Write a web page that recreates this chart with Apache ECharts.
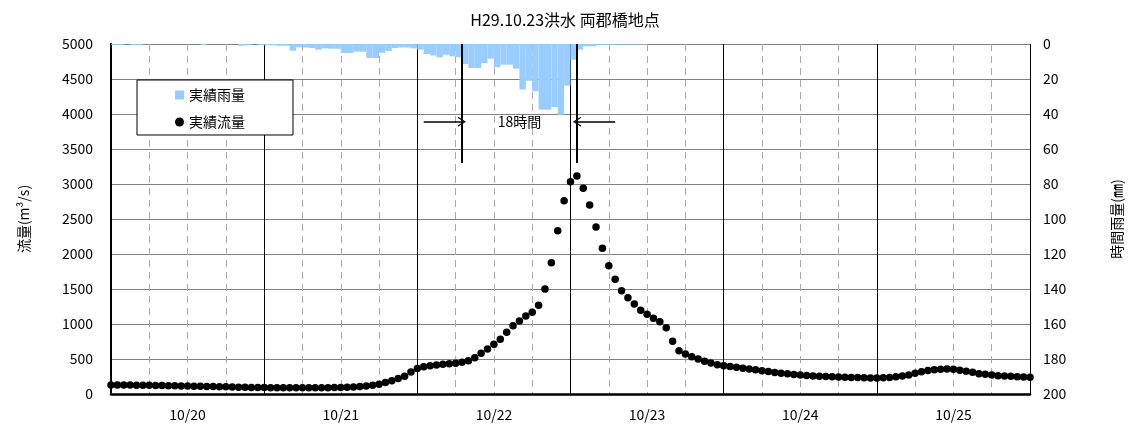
<!DOCTYPE html>
<html>
<head>
<meta charset="utf-8">
<script src="https://cdn.jsdelivr.net/npm/echarts@6/dist/echarts.min.js"></script>
<style>
  html, body { margin: 0; padding: 0; background: #fff; }
  #chart { width: 1133px; height: 433px; }
</style>
</head>
<body>
<div id="chart"></div>
<script>
// 日ラベル (各日の12時位置に表示)
let dayLabels = ["10/20", "10/21", "10/22", "10/23", "10/24", "10/25"];

// 実績雨量 (mm) 1時間ごと、i時〜i+1時
let rainfall = [
  0.5, 0.5, 0, 0.5, 0.5, 0, 0, 0, 0, 0, 0, 0, 0, 0, 0.5, 0, 0, 0, 0, 0, 1, 0.5, 0, 0.5,
  0.7, 0.7, 1, 1, 3.8, 1.9, 2, 2.3, 3.2, 2.5, 2.7, 2.7, 5.1, 5.1, 4.4, 4.4, 8, 8, 5, 4,
  2.3, 2, 2, 2.5, 3.2, 5.7, 6.6, 7.6, 6.1, 7, 7.6, 11.4, 13.7, 13.7, 10.9, 8.4, 13.3, 11.8, 11.8, 14.1,
  26, 21, 27, 37.5, 37.5, 36, 40.4, 23.8, 9, 3.2, 1.3, 1.3, 0.5, 0.5, 0.5, 0.3, 0.3, 0.3, 0.3, 0.3,
  0, 0, 0, 0, 0, 0, 0, 0, 0, 0, 0, 0, 0, 0, 0, 0, 0, 0, 0, 0, 0, 0, 0, 0,
  0, 0, 0, 0, 0, 0, 0, 0, 0, 0, 0, 0, 0, 0, 0, 0, 0, 0, 0, 0, 0, 0, 0, 0
];

// 実績流量 (m3/s) 毎正時 0〜144時
let discharge = [
  130, 129, 128, 127, 126, 125, 124, 122, 121, 119, 118, 116, 114, 112, 110, 108, 106, 104, 102, 100,
  98, 96, 94, 93, 92, 91, 90, 89, 88, 88, 88, 88, 88, 89, 90, 92, 94, 97, 101, 106,
  113, 124, 140, 163, 190, 220, 252, 315, 365, 390, 405, 414, 424, 432, 438, 452, 476, 519, 581, 643,
  710, 781, 881, 976, 1043, 1114, 1167, 1267, 1500, 1876, 2333, 2762, 3033, 3114, 2938, 2700, 2386, 2081, 1831, 1640,
  1476, 1376, 1284, 1198, 1140, 1081, 1033, 948, 752, 619, 571, 533, 500, 467, 443, 419, 405, 393, 381, 369,
  357, 345, 333, 320, 307, 295, 288, 280, 273, 265, 257, 253, 250, 246, 242, 238, 236, 234, 232, 230,
  229, 231, 236, 245, 257, 271, 295, 319, 335, 348, 355, 357, 352, 340, 325, 310, 290, 281, 272, 262,
  257, 252, 247, 243, 238
];

// 18時間の注記
let lagStart = 55;
let lagEnd = 73;

let font = "'Noto Sans CJK JP', sans-serif";

let rainData = rainfall.map((v, i) => [i + 0.5, v]);
let flowData = discharge.map((v, i) => [i, v]);

let chart = echarts.init(document.getElementById("chart"));

let arrowHead = "path://M0,10 L5,0 L10,10 L8.6,10 L5,3 L1.4,10 Z";

let option = {
  animation: false,
  textStyle: { fontFamily: font },
  title: {
    text: "H29.10.23洪水 両郡橋地点",
    left: 560,
    top: 7,
    textAlign: "center",
    textStyle: { fontFamily: font, fontSize: 16, fontWeight: "normal", color: "#000" }
  },
  legend: {
    orient: "vertical",
    left: 137,
    top: 80,
    backgroundColor: "#fff",
    borderColor: "#000",
    borderWidth: 1,
    padding: [8, 48, 6, 38],
    itemGap: 13,
    itemWidth: 9,
    itemHeight: 9,
    textStyle: { fontFamily: font, fontSize: 14, color: "#000" },
    data: [
      { name: "実績雨量", icon: "rect" },
      { name: "実績流量", icon: "circle" }
    ]
  },
  grid: {
    left: 111,
    right: 103,
    top: 44,
    bottom: 39
  },
  xAxis: [
    {
      type: "value",
      min: 0,
      max: 144,
      interval: 6,
      axisLine: { lineStyle: { color: "#000", width: 2.5 } },
      axisTick: { show: false },
      axisLabel: {
        margin: 14,
        fontSize: 14,
        color: "#000",
        fontFamily: font,
        formatter: v => (v % 24 === 12 ? dayLabels[(v - 12) / 24] : "")
      },
      splitLine: { show: true, lineStyle: { color: "#aaa", type: [7, 5], width: 1 } }
    },
    {
      type: "value",
      position: "bottom",
      min: 0,
      max: 144,
      interval: 24,
      axisLine: { show: false },
      axisTick: { show: false },
      axisLabel: { show: false },
      splitLine: { show: true, lineStyle: { color: "#000", width: 1 } }
    }
  ],
  yAxis: [
    {
      type: "value",
      name: "流量(m³/s)",
      nameLocation: "middle",
      nameRotate: 90,
      nameGap: 80,
      nameTextStyle: { fontFamily: font, fontSize: 14, color: "#000" },
      min: 0,
      max: 5000,
      interval: 500,
      axisLine: { show: true, lineStyle: { color: "#000", width: 2 } },
      axisTick: { show: false },
      axisLabel: { margin: 18, fontSize: 14, color: "#000", fontFamily: font, formatter: v => String(v) },
      splitLine: { show: true, lineStyle: { color: "#808080", width: 1 } }
    },
    {
      type: "value",
      name: "時間雨量(㎜)",
      nameLocation: "middle",
      nameRotate: 90,
      nameGap: 80,
      nameTextStyle: { fontFamily: font, fontSize: 14, color: "#000" },
      position: "right",
      inverse: true,
      min: 0,
      max: 200,
      interval: 20,
      axisLine: { show: true, lineStyle: { color: "#000", width: 2 } },
      axisTick: { show: false },
      axisLabel: { margin: 13, fontSize: 14, color: "#000", fontFamily: font, formatter: v => String(v) },
      splitLine: { show: false }
    }
  ],
  series: [
    {
      name: "実績雨量",
      type: "bar",
      xAxisIndex: 0,
      yAxisIndex: 1,
      barWidth: 6.4,
      itemStyle: { color: "#99ccff", opacity: 1 },
      data: rainData
    },
    {
      name: "実績流量",
      type: "scatter",
      xAxisIndex: 0,
      yAxisIndex: 0,
      symbol: "circle",
      symbolSize: 7.5,
      clip: false,
      itemStyle: { color: "#000", opacity: 1 },
      data: flowData,
      markLine: {
        silent: true,
        symbol: "none",
        label: { show: false },
        lineStyle: { color: "#000", width: 2, type: "solid" },
        data: [
          [{ coord: [lagStart, 5000] }, { coord: [lagStart, 3300] }],
          [{ coord: [lagEnd, 5000] }, { coord: [lagEnd, 3300] }],
          [
            { coord: [lagStart - 6, 3890], symbol: "none", lineStyle: { width: 1.5 } },
            { coord: [lagStart, 3890], symbol: arrowHead, symbolSize: [10, 8] }
          ],
          [
            { coord: [lagEnd + 6, 3890], symbol: "none", lineStyle: { width: 1.5 } },
            { coord: [lagEnd, 3890], symbol: arrowHead, symbolSize: [10, 8] }
          ]
        ]
      },
      markPoint: {
        silent: true,
        symbol: "circle",
        symbolSize: 0,
        label: { show: true, formatter: "18時間", color: "#000", fontSize: 14, fontFamily: font, position: "inside" },
        data: [{ coord: [(lagStart + lagEnd) / 2, 3890] }]
      }
    }
  ]
};

chart.setOption(option);
</script>
</body>
</html>
